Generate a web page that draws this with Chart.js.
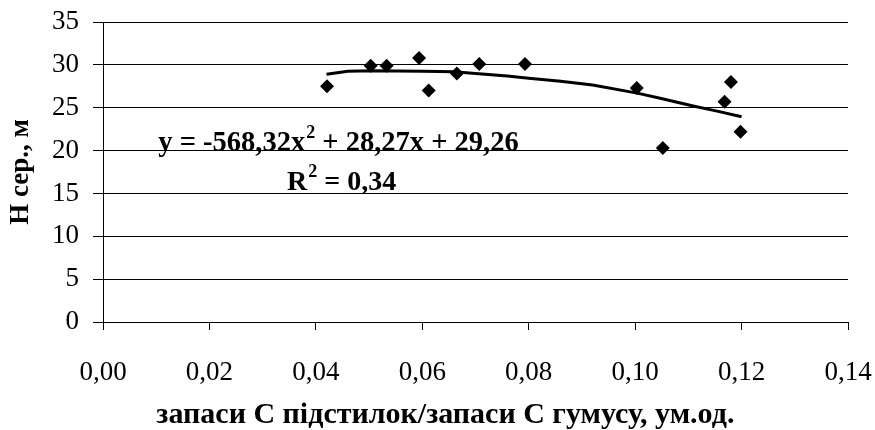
<!DOCTYPE html>
<html><head><meta charset="utf-8">
<script src="https://cdn.jsdelivr.net/npm/chart.js@4.4.1/dist/chart.umd.min.js"></script>
<style>html,body{margin:0;padding:0;background:#fff}#wrap{width:875px;height:430px}</style>
</head><body><div id="wrap"><canvas id="c" width="875" height="430"></canvas></div>
<script>
const ptsX = [0.0421,0.0503,0.0533,0.0594,0.0612,0.0665,0.0707,0.0793,0.1003,0.1052,0.1168,0.1180,0.1198];
const ptsY = [27.5,29.9,29.9,30.8,27.0,29.0,30.1,30.1,27.3,20.3,25.7,28.0,22.2];
const trendX = [0.042,0.046,0.0505,0.060,0.066,0.070,0.076,0.080,0.086,0.092,0.1004,0.1047,0.1109,0.1154,0.1200];
const trendY = [28.9,29.25,29.3,29.25,29.2,29.0,28.7,28.45,28.1,27.65,26.7,26.1,25.2,24.6,23.95];
const xTickLabels = ['0,00','0,02','0,04','0,06','0,08','0,10','0,12','0,14'];
const yTickLabels = ['0','5','10','15','20','25','30','35'];
const xTitle = 'запаси С підстилок/запаси С гумусу, ум.од.';
const yTitle = 'H сер., м';
const eqMain1 = 'y = -568,32x';
const eqSup = '2';
const eqMain2 = ' + 28,27x + 29,26';
const r2Main = 'R';
const r2Rest = ' = 0,34';

const FONT = '"Liberation Serif", "Times New Roman", serif';

const textPlugin = {
  id: 'eqText',
  afterDatasetsDraw(chart) {
    const ctx = chart.ctx;
    const xs = chart.scales.x, ys = chart.scales.y;
    ctx.save();
    ctx.fillStyle = '#000';
    ctx.textBaseline = 'alphabetic';
    ctx.textAlign = 'left';
    let x = xs.getPixelForValue(0.0104), y = ys.getPixelForValue(20.0);
    ctx.font = 'bold 28.5px ' + FONT;
    ctx.fillText(eqMain1, x, y); x += ctx.measureText(eqMain1).width;
    ctx.font = 'bold 18px ' + FONT;
    ctx.fillText(eqSup, x + 1, y - 13); x += ctx.measureText(eqSup).width + 1;
    ctx.font = 'bold 28.5px ' + FONT;
    ctx.fillText(eqMain2, x, y);
    x = xs.getPixelForValue(0.0346); y = ys.getPixelForValue(15.35);
    ctx.font = 'bold 28px ' + FONT;
    ctx.fillText(r2Main, x, y); x += ctx.measureText(r2Main).width;
    ctx.font = 'bold 18px ' + FONT;
    ctx.fillText(eqSup, x + 1, y - 13); x += ctx.measureText(eqSup).width + 1;
    ctx.font = 'bold 28px ' + FONT;
    ctx.fillText(r2Rest, x, y);
    // x axis title, centred on the canvas as in the reference
    ctx.font = 'bold 30px ' + FONT;
    ctx.textAlign = 'center';
    ctx.fillText(xTitle, chart.width * 0.509, chart.height - 7);
    ctx.restore();
  }
};

new Chart(document.getElementById('c'), {
  type: 'scatter',
  data: {
    datasets: [
      { data: ptsX.map((v,i)=>({x:v,y:ptsY[i]})), showLine:false, pointStyle:'rectRot', pointRadius:7, pointHoverRadius:7,
        backgroundColor:'#000', borderColor:'#000', borderWidth:0, order:1 },
      { data: trendX.map((v,i)=>({x:v,y:trendY[i]})), showLine:true, pointRadius:0, borderColor:'#000', borderWidth:3,
        tension:0, fill:false, order:2 }
    ]
  },
  options: {
    responsive:false, animation:false, devicePixelRatio:1,
    layout:{ padding:{ left:0, right:27, top:22, bottom:0 } },
    plugins:{ legend:{display:false}, tooltip:{enabled:false} },
    scales:{
      x:{ type:'linear', min:0, max:0.14,
        afterFit(s){ s.height = 108; s.paddingLeft = 0; s.paddingRight = 0; },
        afterBuildTicks(s){ s.ticks = xTickLabels.map((t,i)=>({value: i*0.02})); },
        ticks:{ color:'#000', font:{family:FONT, size:27}, padding:27, maxRotation:0, autoSkip:false,
          callback:(v,i)=>xTickLabels[i] },
        grid:{ drawOnChartArea:false, drawTicks:true, tickLength:8, color:'#000', lineWidth:1 },
        border:{ display:true, color:'#000', width:1 },
        title:{ display:false }
      },
      y:{ type:'linear', min:0, max:35,
        afterFit(s){ s.width = 103; s.paddingTop = 0; s.paddingBottom = 0; },
        afterBuildTicks(s){ s.ticks = yTickLabels.map((t,i)=>({value: i*5})); },
        ticks:{ color:'#000', font:{family:FONT, size:27}, padding:14, autoSkip:false,
          callback:(v,i)=>yTickLabels[i] },
        grid:{ drawOnChartArea:true, drawTicks:true, tickLength:10, color:'#000', lineWidth:1 },
        border:{ display:true, color:'#000', width:1 },
        title:{ display:true, text:yTitle, color:'#000', font:{family:FONT, size:27, weight:'bold'}, padding:{top:5,bottom:0} }
      }
    }
  },
  plugins:[textPlugin]
});
</script></body></html>
